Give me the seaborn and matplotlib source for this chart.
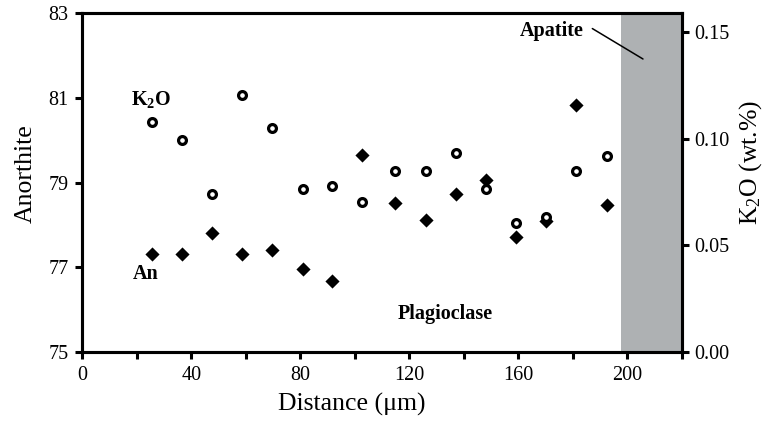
import numpy as np
import pandas as pd
import matplotlib
matplotlib.use("Agg")
import matplotlib.pyplot as plt
from matplotlib.ticker import MultipleLocator, FixedLocator
import seaborn as sns

# ---- data ----
distance = [25.6, 36.6, 47.6, 58.6, 69.6, 80.9, 91.7, 102.8,
            114.7, 126.1, 137.2, 148.1, 159.3, 170.1, 181.3, 192.5]
anorthite = [77.30, 77.31, 77.80, 77.30, 77.40, 76.95, 76.66, 79.64,
             78.52, 78.11, 78.72, 79.07, 77.71, 78.10, 80.84, 78.46]
k2o = [0.1077, 0.0993, 0.0742, 0.1207, 0.1049, 0.0764, 0.0778, 0.0702,
       0.0850, 0.0850, 0.0935, 0.0763, 0.0606, 0.0634, 0.0850, 0.0919]
apatite_start = 197.7
x_max = 220
an_ticks = [75, 77, 79, 81, 83]
k2o_ticks = [0.00, 0.05, 0.10, 0.15]
x_ticks_labeled = [0, 40, 80, 120, 160, 200]

sns.set_style("ticks")
plt.rcParams["font.family"] = ["Liberation Serif", "DejaVu Serif"]
plt.rcParams["mathtext.fontset"] = "custom"
plt.rcParams["mathtext.rm"] = "Liberation Serif"
plt.rcParams["mathtext.bf"] = "Liberation Serif:bold"
plt.rcParams["mathtext.it"] = "Liberation Serif:italic"
plt.rcParams["mathtext.default"] = "regular"
plt.rcParams["axes.edgecolor"] = "black"
plt.rcParams["xtick.color"] = "black"
plt.rcParams["ytick.color"] = "black"
plt.rcParams["text.color"] = "black"
plt.rcParams["axes.labelcolor"] = "black"

df_an = pd.DataFrame({"distance": distance, "An": anorthite})
df_k = pd.DataFrame({"distance": distance, "K2O": k2o})

fig = plt.figure(figsize=(7.74, 4.24), dpi=100)
pos = [0.1065, 0.1705, 0.7742, 0.7981]
ax = fig.add_axes(pos)
ax2 = ax.twinx()
ax2.set_position(pos)

ax.axvspan(apatite_start, x_max, color="#aeb1b3", lw=0, zorder=0)

sns.scatterplot(data=df_an, x="distance", y="An", ax=ax, marker="D",
                color="black", s=52, linewidth=0, zorder=3, legend=False)
sns.scatterplot(data=df_k, x="distance", y="K2O", ax=ax2, marker="o",
                color="white", edgecolor="black", s=32, linewidth=2.3,
                zorder=3, legend=False)

ax.set_xlim(0, x_max)
ax.set_ylim(75, 83)
ax2.set_ylim(0, 0.159)

ax.xaxis.set_major_locator(FixedLocator(x_ticks_labeled))
ax.xaxis.set_minor_locator(MultipleLocator(20))
ax.set_yticks(an_ticks)
ax2.set_yticks(k2o_ticks)
ax2.set_yticklabels([f"{v:.2f}" for v in k2o_ticks])

tick_kw = dict(direction="out", length=5, width=2.2, labelsize=14.5, pad=5)
ax.tick_params(axis="x", which="both", top=False, **tick_kw)
ax.tick_params(axis="y", which="both", right=False, **tick_kw)
ax2.tick_params(axis="y", which="both", left=False, direction="out",
                length=5, width=2.2, labelsize=14.5, pad=4)
ax.tick_params(axis="y", which="minor", left=False)

for a in (ax, ax2):
    for s in a.spines.values():
        s.set_linewidth(2.2)
        s.set_color("black")
        s.set_visible(True)

ax.set_xlabel("Distance (μm)", fontsize=18.5)
ax.xaxis.set_label_coords(0.45, -0.1546)
ax.xaxis.label.set_va("center")
ax.set_ylabel("Anorthite", fontsize=18.5)
ax.yaxis.set_label_coords(-0.094, 0.525)
ax.yaxis.label.set_va("center")
ax2.set_ylabel("K$_2$O (wt.%)", fontsize=18.5)
ax2.yaxis.set_label_coords(1.1156, 0.559)
ax2.yaxis.label.set_va("center")
ax2.yaxis.label.set_rotation(90)

ax.text(25.2, 80.96, r"$\mathbf{K_2O}$", fontsize=14.5, ha="center",
        va="center", fontweight="bold")
ax.text(23.4, 76.83, "An", fontsize=14.5, ha="center", va="center",
        fontweight="bold")
ax.text(133.3, 75.89, "Plagioclase", fontsize=14.5, ha="center",
        va="center", fontweight="bold")
ax.text(172.3, 82.58, "Apatite", fontsize=14.5, ha="center", va="center",
        fontweight="bold")
ax.plot([187.2, 205.8], [82.64, 81.92], color="black", lw=1.1, zorder=4)

fig.savefig("out.png", dpi=100)
